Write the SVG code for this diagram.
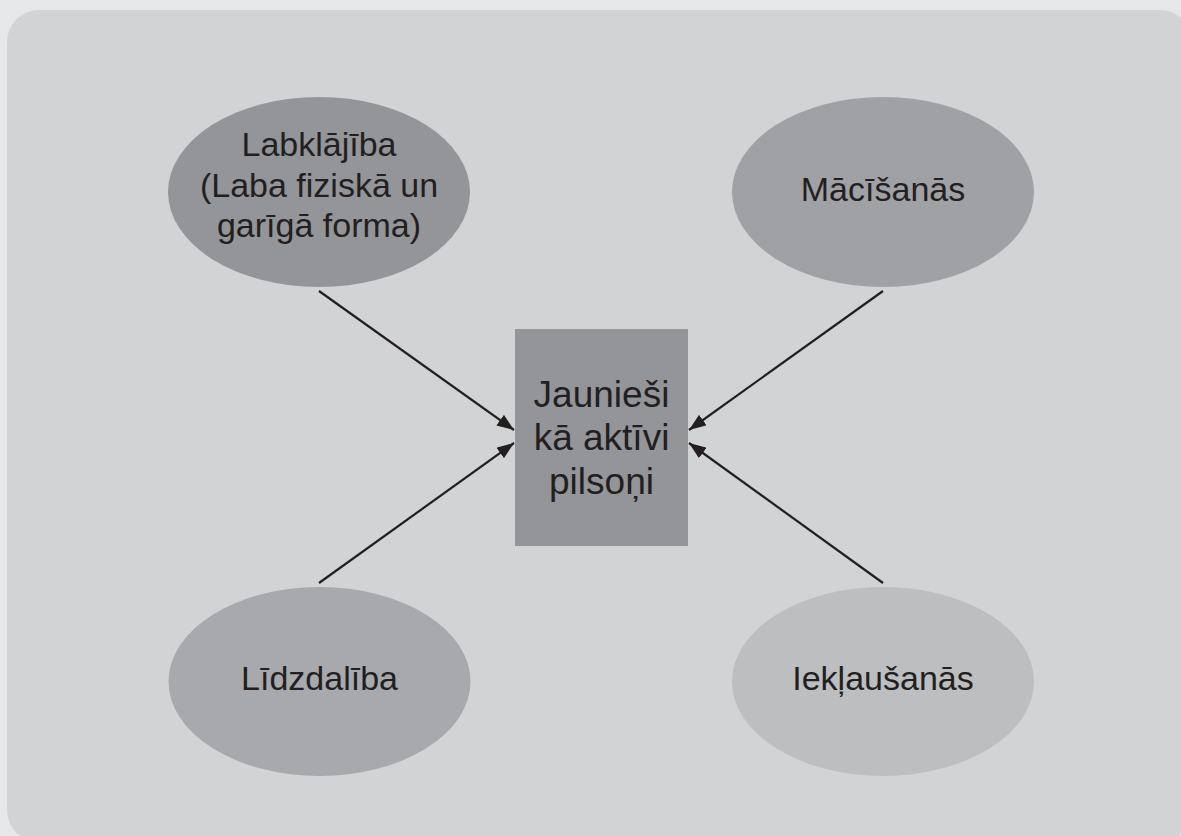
<svg xmlns="http://www.w3.org/2000/svg" width="1181" height="836" viewBox="0 0 1181 836">
<defs>
<style>
.t{font-family:"Liberation Sans",Arial,sans-serif;font-size:34px;fill:#231f20;text-anchor:middle}
.c{font-size:37px}
.ln{stroke:#231f20;stroke-width:2.2;fill:none;marker-end:url(#ah)}
</style>
<marker id="ah" viewBox="0 0 17 13" refX="17" refY="6.5" markerWidth="17" markerHeight="13" markerUnits="userSpaceOnUse" orient="auto">
<path d="M0,0 L17,6.5 L0,13 Z" fill="#231f20"/>
</marker>
</defs>
<rect x="0" y="0" width="1181" height="836" fill="#e6e7e8"/>
<rect x="7" y="10" width="1185" height="832" rx="32" fill="#d1d3d4"/>
<g id="connectors">
<line class="ln" x1="319" y1="291" x2="514" y2="430"/>
<line class="ln" x1="319" y1="583" x2="514" y2="443"/>
<line class="ln" x1="883" y1="291" x2="689" y2="430"/>
<line class="ln" x1="883" y1="583" x2="689" y2="443"/>
</g>
<g id="center">
<rect x="515" y="329" width="173" height="217" fill="#939598"/>
<text class="t c" x="601.5" y="407">Jaunieši</text>
<text class="t c" x="601.5" y="450">kā aktīvi</text>
<text class="t c" x="601.5" y="494">pilsoņi</text>
</g>
<g id="labklajiba">
<ellipse cx="319" cy="192" rx="151" ry="95" fill="#939598"/>
<text class="t" x="319" y="156">Labklājība</text>
<text class="t" x="319" y="197">(Laba fiziskā un</text>
<text class="t" x="319" y="237">garīgā forma)</text>
</g>
<g id="macisanas">
<ellipse cx="883" cy="192" rx="151" ry="95" fill="#a0a1a4"/>
<text class="t" x="883" y="201">Mācīšanās</text>
</g>
<g id="lidzdaliba">
<ellipse cx="319.5" cy="681.5" rx="151" ry="94.5" fill="#a7a9ac"/>
<text class="t" x="319.5" y="690">Līdzdalība</text>
</g>
<g id="ieklausanas">
<ellipse cx="883" cy="681.5" rx="151" ry="94.5" fill="#bcbec0"/>
<text class="t" x="883" y="690">Iekļaušanās</text>
</g>
</svg>
